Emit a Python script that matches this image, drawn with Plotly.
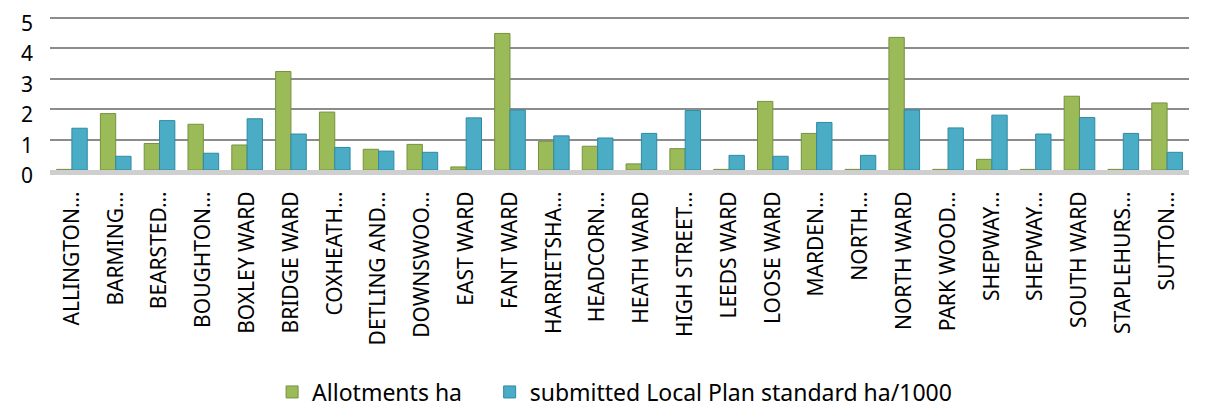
import plotly.graph_objects as go

# =========================
# Data
# =========================
WARDS = [
    "ALLINGTON…", "BARMING…", "BEARSTED…", "BOUGHTON…", "BOXLEY WARD",
    "BRIDGE WARD", "COXHEATH…", "DETLING AND…", "DOWNSWOO…", "EAST WARD",
    "FANT WARD", "HARRIETSHA…", "HEADCORN…", "HEATH WARD", "HIGH STREET…",
    "LEEDS WARD", "LOOSE WARD", "MARDEN…", "NORTH…", "NORTH WARD",
    "PARK WOOD…", "SHEPWAY…", "SHEPWAY…", "SOUTH WARD", "STAPLEHURS…",
    "SUTTON…",
]

ALLOTMENTS = [
    0.02, 1.85, 0.87, 1.50, 0.82,
    3.23, 1.90, 0.68, 0.84, 0.10,
    4.48, 0.94, 0.78, 0.20, 0.70,
    0.02, 2.25, 1.20, 0.02, 4.35,
    0.02, 0.35, 0.02, 2.42, 0.02,
    2.20,
]

STANDARD = [
    1.37, 0.45, 1.62, 0.55, 1.68,
    1.18, 0.74, 0.62, 0.58, 1.71,
    1.97, 1.12, 1.05, 1.20, 1.95,
    0.48, 0.45, 1.56, 0.48, 1.97,
    1.38, 1.80, 1.18, 1.72, 1.20,
    0.58,
]

Y_TICKS = [0, 1, 2, 3, 4, 5]

GREEN = "#9BBB59"
BLUE = "#4BACC6"
FONT = "Noto Sans"

x_idx = list(range(len(WARDS)))

fig = go.Figure()
fig.add_trace(go.Bar(
    x=x_idx, y=ALLOTMENTS, name="Allotments ha",
    marker=dict(color=GREEN, line=dict(color="#76913F", width=1)),
    legend="legend", showlegend=True,
))
fig.add_trace(go.Bar(
    x=x_idx, y=STANDARD, name="submitted Local Plan standard ha/1000",
    marker=dict(color=BLUE, line=dict(color="#2F8AA3", width=1)),
    legend="legend2", showlegend=True,
))

# one legend per series so the two entries can sit apart like the original
legend_style = dict(
    orientation="h",
    yanchor="middle",
    y=-1.414,
    xanchor="left",
    font=dict(size=23),
    bgcolor="rgba(0,0,0,0)",
    visible=True,
)

fig.update_layout(
    width=1210,
    height=410,
    showlegend=True,
    barmode="group",
    bargap=0.3,
    bargroupgap=0.0,
    plot_bgcolor="white",
    paper_bgcolor="white",
    font=dict(family=FONT, size=21, color="black"),
    margin=dict(l=42, r=29, t=5, b=248, autoexpand=False),
    legend=dict(legend_style, x=0.195),
    legend2=dict(legend_style, x=0.386),
    xaxis=dict(
        tickmode="array",
        tickvals=x_idx,
        ticktext=WARDS,
        tickangle=-90,
        range=[-0.5, len(WARDS) - 0.5],
        showgrid=False,
        showline=True,
        linecolor="#CFCFCF",
        linewidth=5,
        ticks="",
        ticklabelstandoff=8,
    ),
    yaxis=dict(
        range=[0, 5.15],
        tickvals=Y_TICKS,
        showgrid=True,
        gridcolor="#8C8C8C",
        gridwidth=1.5,
        zeroline=False,
        showline=False,
        ticks="",
        tickfont=dict(size=21),
        ticklabelstandoff=16,
        ticklabelshift=6,
        ticklabeloverflow="allow",
    ),
)

fig.write_html("out.html")
